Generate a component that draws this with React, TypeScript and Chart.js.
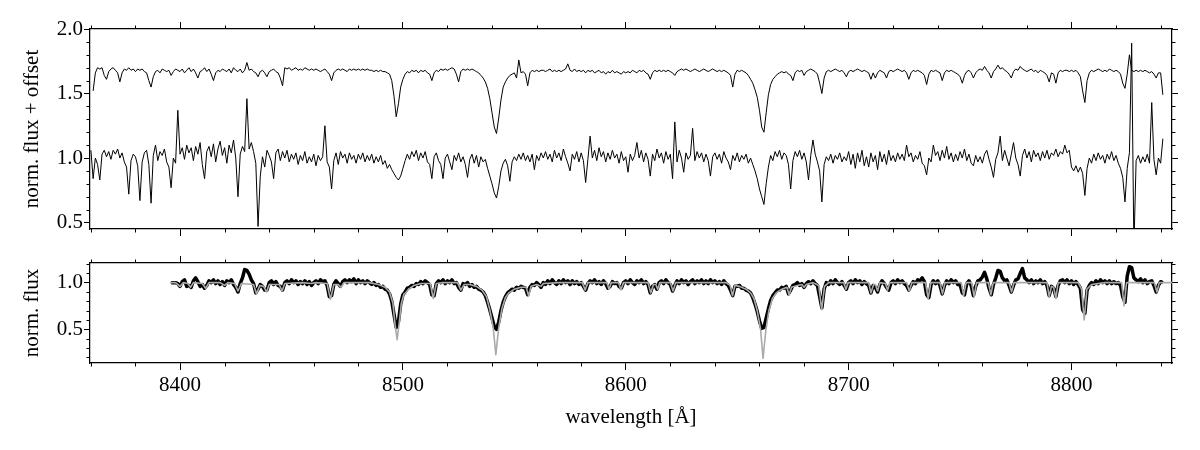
import React, { useEffect, useRef } from "react";
import { Chart, registerables } from "chart.js";

Chart.register(...registerables);

const FONT = "'Liberation Serif', 'Times New Roman', serif";
Chart.defaults.color = "#000";
Chart.defaults.font.family = FONT;

// ---------- axes ----------
const X_MIN = 8359.6;
const X_MAX = 8845.1;
const xMajorTicks = [8400, 8500, 8600, 8700, 8800];
const X_MINOR_STEP = 20;
const topYRange = [0.45, 2.0];
const topYMajorTicks = [0.5, 1.0, 1.5, 2.0];
const bottomYRange = [0.14, 1.21];
const bottomYMajorTicks = [0.5, 1.0];

// ---------- top panel: spectrum shifted by offset (1 Å sampling) ----------
const UPPER_START = 8361;
const UPPER_STEP = 1;
const upperFlux = [
  /*8361*/ 1.52,1.66,1.70,1.69,1.70,1.64,1.61,1.67,1.69,1.70,1.68,1.66,1.59,1.66,1.69,1.68,1.70,1.68,1.69,
  /*8380*/ 1.67,1.69,1.68,1.69,1.67,1.66,1.60,1.55,1.63,1.67,1.68,1.66,1.69,1.68,1.67,1.68,1.64,1.67,1.69,1.68,
  /*8400*/ 1.67,1.69,1.66,1.68,1.70,1.67,1.69,1.66,1.62,1.67,1.68,1.70,1.67,1.69,1.65,1.60,1.66,1.68,1.67,1.69,
  /*8420*/ 1.68,1.67,1.69,1.66,1.70,1.68,1.67,1.69,1.66,1.68,1.74,1.68,1.69,1.67,1.66,1.63,1.67,1.68,1.66,1.63,
  /*8440*/ 1.67,1.68,1.69,1.67,1.66,1.62,1.56,1.70,1.69,1.70,1.68,1.69,1.70,1.68,1.69,1.68,1.70,1.69,1.68,1.69,
  /*8460*/ 1.68,1.69,1.68,1.67,1.68,1.69,1.67,1.65,1.60,1.66,1.68,1.69,1.68,1.69,1.68,1.67,1.69,1.68,1.69,1.68,
  /*8480*/ 1.69,1.68,1.69,1.68,1.69,1.68,1.68,1.67,1.68,1.67,1.68,1.67,1.67,1.66,1.65,1.60,1.48,1.32,1.42,1.55,
  /*8500*/ 1.61,1.65,1.67,1.66,1.68,1.67,1.68,1.66,1.68,1.67,1.68,1.66,1.65,1.60,1.66,1.68,1.67,1.69,1.68,1.69,
  /*8520*/ 1.68,1.69,1.70,1.69,1.65,1.59,1.67,1.69,1.68,1.69,1.68,1.69,1.68,1.67,1.66,1.64,1.62,1.59,1.54,1.46,
  /*8540*/ 1.35,1.24,1.19,1.31,1.45,1.55,1.59,1.62,1.64,1.65,1.66,1.62,1.76,1.66,1.67,1.65,1.56,1.66,1.68,1.67,
  /*8560*/ 1.68,1.67,1.68,1.68,1.67,1.68,1.69,1.67,1.68,1.67,1.68,1.67,1.68,1.69,1.73,1.68,1.67,1.69,1.67,1.68,
  /*8580*/ 1.67,1.68,1.66,1.68,1.67,1.68,1.66,1.67,1.68,1.66,1.67,1.65,1.67,1.66,1.68,1.66,1.67,1.66,1.65,1.67,
  /*8600*/ 1.66,1.67,1.66,1.68,1.67,1.66,1.68,1.67,1.68,1.66,1.65,1.61,1.66,1.68,1.67,1.68,1.67,1.68,1.67,1.68,
  /*8620*/ 1.67,1.66,1.64,1.67,1.68,1.69,1.68,1.69,1.68,1.67,1.68,1.69,1.68,1.67,1.68,1.69,1.68,1.67,1.68,1.69,
  /*8640*/ 1.68,1.67,1.68,1.67,1.68,1.67,1.66,1.64,1.55,1.65,1.68,1.67,1.68,1.67,1.66,1.64,1.61,1.58,1.53,1.47,
  /*8660*/ 1.37,1.24,1.20,1.35,1.49,1.57,1.61,1.63,1.65,1.66,1.67,1.66,1.67,1.65,1.64,1.60,1.66,1.68,1.67,1.68,
  /*8680*/ 1.64,1.67,1.68,1.69,1.68,1.67,1.65,1.58,1.50,1.62,1.67,1.68,1.67,1.68,1.69,1.68,1.67,1.68,1.66,1.63,
  /*8700*/ 1.67,1.68,1.67,1.68,1.69,1.68,1.67,1.68,1.67,1.66,1.61,1.66,1.62,1.66,1.68,1.67,1.66,1.62,1.67,1.68,
  /*8720*/ 1.67,1.68,1.69,1.68,1.67,1.68,1.66,1.61,1.66,1.68,1.67,1.68,1.67,1.66,1.64,1.57,1.65,1.68,1.67,1.68,
  /*8740*/ 1.67,1.66,1.60,1.66,1.68,1.67,1.68,1.67,1.66,1.65,1.63,1.58,1.64,1.67,1.68,1.66,1.62,1.66,1.68,1.69,
  /*8760*/ 1.68,1.71,1.68,1.66,1.62,1.67,1.69,1.72,1.69,1.70,1.68,1.67,1.65,1.62,1.67,1.69,1.68,1.71,1.69,1.68,
  /*8780*/ 1.67,1.68,1.69,1.67,1.68,1.66,1.68,1.67,1.66,1.64,1.59,1.66,1.65,1.58,1.66,1.68,1.67,1.68,1.68,1.67,
  /*8800*/ 1.68,1.67,1.68,1.66,1.63,1.52,1.43,1.60,1.66,1.68,1.67,1.68,1.69,1.68,1.67,1.68,1.67,1.69,1.68,1.67,
  /*8820*/ 1.68,1.67,1.65,1.58,1.54,1.65,1.80,1.68,1.67,1.68,1.67,1.68,1.67,1.68,1.67,1.66,1.67,1.65,1.62,1.66,
  /*8840*/ 1.66,1.49,
];

// ---------- top panel: noisy spectrum (1 Å sampling) ----------
const LOWER_START = 8360;
const LOWER_STEP = 1;
const lowerFlux = [
  /*8360*/ 1.06,0.84,1.00,0.95,0.83,1.03,1.06,1.01,1.05,0.99,1.06,1.03,1.07,1.00,1.04,0.97,0.93,0.72,0.98,1.03,
  /*8380*/ 1.01,0.94,0.67,0.97,1.04,1.06,0.95,0.65,1.02,1.10,0.98,1.05,1.02,1.07,0.97,0.93,0.77,1.00,0.96,1.37,
  /*8400*/ 1.03,1.08,0.99,1.10,1.04,1.08,0.98,1.09,1.03,1.12,0.95,0.84,1.05,1.09,1.01,1.11,0.97,1.07,1.13,1.02,
  /*8420*/ 1.08,0.96,1.10,1.04,1.14,1.00,0.70,1.03,1.09,1.05,1.46,1.07,1.12,1.05,0.96,0.47,0.86,1.01,0.93,1.06,
  /*8440*/ 1.02,0.97,0.84,1.04,1.07,0.98,1.05,1.00,1.06,0.97,1.03,0.99,1.04,0.95,1.02,0.98,1.05,0.96,1.01,0.97,
  /*8460*/ 1.03,0.94,1.02,0.98,1.01,1.25,0.97,0.93,0.76,0.98,1.04,0.95,1.05,1.00,1.03,0.96,1.04,0.99,1.02,0.96,
  /*8480*/ 1.03,0.99,1.04,0.97,1.02,0.98,1.03,0.96,1.01,0.97,1.02,0.95,0.98,0.92,0.95,0.91,0.88,0.85,0.83,0.86,
  /*8500*/ 0.92,0.98,1.03,0.99,1.05,1.01,1.06,0.98,1.04,1.00,1.05,0.97,0.95,0.84,1.01,1.04,0.98,0.95,0.84,1.00,
  /*8520*/ 1.03,0.97,0.91,1.02,0.98,1.04,0.97,1.01,0.95,0.85,0.99,1.03,0.96,1.02,0.93,1.01,0.97,0.99,0.92,0.86,
  /*8540*/ 0.80,0.73,0.69,0.78,0.90,0.96,0.99,0.94,0.82,0.97,1.01,0.98,1.03,0.99,1.04,0.98,1.02,0.97,1.03,0.91,
  /*8560*/ 1.02,0.98,1.04,1.00,1.05,0.99,1.03,0.97,1.06,1.00,1.04,0.98,1.07,1.01,0.96,0.90,1.03,0.99,1.05,0.97,
  /*8580*/ 1.04,0.98,0.81,0.99,1.17,1.00,1.06,0.98,1.08,1.01,1.05,0.97,1.04,0.99,1.06,1.00,1.03,0.96,1.05,0.98,
  /*8600*/ 1.01,0.89,1.03,0.98,1.02,1.12,1.00,1.06,0.97,1.04,0.99,0.86,1.03,0.98,1.07,1.00,1.04,0.96,1.05,0.99,
  /*8620*/ 1.03,0.84,1.28,0.97,1.06,1.00,0.89,1.04,0.99,1.02,1.23,0.98,1.05,1.00,1.04,0.97,1.03,0.98,0.86,1.01,
  /*8640*/ 1.04,0.99,1.03,0.96,1.05,1.00,0.97,0.91,1.02,0.98,1.04,0.97,1.02,0.99,1.03,0.96,1.00,0.95,0.90,0.84,
  /*8660*/ 0.76,0.70,0.64,0.80,0.93,1.02,0.98,1.05,1.01,1.06,0.99,1.04,1.02,0.95,0.76,0.98,1.05,1.01,1.06,0.99,
  /*8680*/ 1.04,0.97,0.83,1.02,1.14,1.03,0.97,0.90,0.66,0.95,1.01,0.98,1.03,0.96,1.02,0.99,1.04,0.97,1.01,0.98,
  /*8700*/ 1.05,0.95,1.03,0.92,1.04,0.97,1.06,0.94,1.01,0.93,1.04,0.97,1.02,0.91,1.05,0.97,1.03,0.95,1.06,0.98,
  /*8720*/ 1.02,0.97,1.04,0.99,1.03,0.98,1.10,1.01,1.04,0.97,1.02,0.99,1.05,0.96,0.94,0.87,1.00,0.97,1.10,1.02,
  /*8740*/ 1.05,0.98,1.06,1.00,1.09,0.99,1.04,0.97,1.03,0.98,1.05,1.00,1.07,0.98,1.03,0.96,0.94,1.02,0.97,1.01,
  /*8760*/ 0.96,1.03,1.06,0.99,0.93,0.85,0.99,1.04,1.17,0.98,1.06,1.00,0.94,1.03,1.12,1.00,0.95,0.86,1.02,1.07,
  /*8780*/ 1.00,1.05,0.97,1.06,1.01,1.04,0.98,1.05,1.00,1.06,0.99,1.04,1.02,1.07,1.01,1.05,1.03,1.10,1.04,1.06,
  /*8800*/ 0.93,0.90,0.94,0.89,0.93,0.88,0.71,0.92,1.00,0.96,1.03,0.98,1.04,0.99,1.02,0.96,1.03,0.99,1.05,0.98,
  /*8820*/ 1.02,0.96,0.92,0.85,0.66,0.92,1.04,1.89,0.30,0.98,1.02,0.96,1.01,0.97,1.03,0.96,1.43,0.99,0.87,1.00,
  /*8840*/ 0.96,1.15,
];

// ---------- bottom panel: observed spectrum (1 Å sampling) ----------
const OBS_START = 8396;
const OBS_STEP = 1;
const observedFlux = [
  /*8396*/ 1.00,1.00,1.00,0.99,0.96,1.01,1.03,0.96,0.97,0.95,1.02,1.05,1.01,0.96,0.98,0.94,0.97,1.02,1.00,1.03,
  /*8416*/ 0.99,1.02,0.98,1.01,0.97,1.02,1.00,1.03,0.98,0.95,0.90,0.99,1.05,1.14,1.13,1.09,1.03,0.99,0.89,0.93,
  /*8436*/ 0.98,0.96,0.92,0.92,1.00,1.02,0.98,1.01,0.97,0.96,0.92,1.00,1.02,0.99,1.03,1.00,1.02,0.98,1.01,0.99,
  /*8456*/ 1.02,0.98,1.01,0.97,1.00,1.02,0.99,1.03,1.01,1.02,0.97,0.85,0.86,0.98,1.02,0.99,0.96,1.01,1.03,1.00,
  /*8476*/ 1.03,1.01,1.04,0.99,1.03,1.00,1.02,0.99,1.02,1.00,0.98,1.00,0.97,0.98,0.95,0.96,0.93,0.92,0.88,0.80,
  /*8496*/ 0.66,0.52,0.58,0.77,0.87,0.90,0.94,0.95,0.97,0.96,0.99,0.98,1.01,0.99,1.02,1.00,0.98,0.87,0.86,0.99,
  /*8516*/ 1.02,1.00,1.03,0.99,1.02,1.00,1.03,0.99,1.00,0.95,0.92,0.99,0.98,1.00,0.96,0.98,0.95,0.96,0.93,0.92,
  /*8536*/ 0.90,0.86,0.79,0.71,0.62,0.53,0.50,0.58,0.70,0.79,0.85,0.89,0.91,0.93,0.92,0.95,0.94,0.96,0.95,0.94,
  /*8556*/ 0.87,0.95,0.98,0.97,1.00,0.98,0.95,1.00,0.98,1.02,0.99,1.03,1.00,0.98,1.02,0.99,1.03,1.00,1.02,0.98,
  /*8576*/ 1.02,0.99,1.01,0.98,1.00,0.96,0.92,0.99,1.02,1.00,1.03,0.99,1.01,0.98,1.02,0.99,0.94,0.96,1.01,0.99,
  /*8596*/ 1.00,0.96,0.94,1.00,1.02,0.99,1.03,1.00,0.98,1.02,1.00,1.03,0.99,1.01,0.98,0.89,0.96,0.98,0.93,1.00,
  /*8616*/ 1.02,0.99,1.03,1.00,0.98,0.91,0.97,1.02,0.99,1.03,1.00,1.02,0.98,1.01,1.03,0.99,1.02,1.00,1.03,0.99,
  /*8636*/ 1.02,0.99,1.03,1.00,1.02,0.99,1.01,0.98,1.02,0.99,0.97,0.92,0.86,0.96,0.96,0.97,0.94,0.94,0.92,0.91,
  /*8656*/ 0.89,0.84,0.77,0.69,0.59,0.51,0.52,0.62,0.72,0.81,0.86,0.89,0.92,0.92,0.95,0.94,0.96,0.88,0.92,0.97,
  /*8676*/ 0.98,1.00,0.97,0.99,0.95,0.99,1.01,0.99,1.02,0.99,0.97,0.85,0.73,0.93,1.00,0.98,1.02,0.99,1.03,1.00,
  /*8696*/ 0.98,1.01,0.97,0.93,1.00,1.02,0.99,1.03,1.00,1.02,0.98,1.01,0.99,0.97,0.89,0.97,0.95,0.90,0.98,1.02,
  /*8716*/ 0.99,0.95,0.92,1.00,1.02,0.99,1.03,1.00,1.02,0.99,0.97,0.92,0.97,1.01,0.99,1.03,1.02,1.05,1.01,0.87,
  /*8736*/ 0.84,0.98,1.02,0.99,1.02,0.97,0.88,0.97,1.02,0.99,1.03,1.00,1.02,0.98,0.98,0.89,0.87,0.99,1.02,0.97,
  /*8756*/ 0.86,0.96,1.02,1.03,1.06,1.11,1.04,0.94,0.87,0.98,1.05,1.13,1.12,1.05,1.02,1.03,0.97,0.90,0.97,1.03,
  /*8776*/ 1.04,1.10,1.15,1.05,1.03,1.00,1.03,0.99,1.02,1.00,1.03,0.99,1.01,0.97,0.86,0.96,0.94,0.85,0.97,1.02,
  /*8796*/ 1.03,1.00,1.03,0.99,1.02,0.98,1.01,0.98,0.94,0.71,0.67,0.92,0.97,1.00,0.98,1.02,0.99,1.03,1.00,1.02,
  /*8816*/ 0.99,1.02,0.99,1.01,0.99,1.00,0.97,0.85,0.79,1.07,1.17,1.16,1.05,1.03,1.01,1.04,1.00,1.03,0.99,1.01,
  /*8836*/ 1.02,0.97,0.90,0.97,1.01,1.00,
];

// ---------- bottom panel: model spectrum ----------
const modelWave = [
  8395.5, 8398, 8400, 8401.5, 8403.5, 8404.7, 8406, 8410, 8411.5, 8413,
  8418, 8420, 8421.5, 8424.5, 8426, 8427.5, 8433, 8434.3, 8435.8, 8437.5,
  8438.8, 8440, 8444.5, 8445.8, 8447, 8455, 8459, 8461, 8466, 8467.5,
  8469, 8471, 8472.2, 8473.5, 8485, 8489, 8492, 8494, 8495.5, 8496.5,
  8497.4, 8498.3, 8499.3, 8500.5, 8501.2, 8502.5, 8505, 8508, 8512.3, 8513.6,
  8515, 8518, 8524.5, 8526, 8527.5, 8530, 8533, 8535.5, 8537.5, 8539,
  8540.5, 8541.7, 8542.9, 8544.4, 8546, 8547.5, 8550, 8553, 8555.3, 8556.4,
  8557.5, 8560, 8562, 8563, 8570, 8580.5, 8581.8, 8583, 8591.5, 8592.5,
  8593.5, 8596.8, 8597.8, 8599, 8610, 8611.2, 8612.4, 8613.5, 8614.3, 8615.3,
  8620, 8621.2, 8622.4, 8635, 8645, 8646.8, 8647.9, 8649, 8651, 8654,
  8656, 8657.5, 8659, 8660.5, 8661.6, 8662.8, 8664.2, 8665.8, 8667.5, 8670,
  8672.3, 8673.3, 8674.4, 8677, 8679, 8680, 8681, 8684, 8686.6, 8687.9,
  8689.2, 8691, 8697.8, 8698.8, 8699.8, 8709, 8710, 8711.2, 8712, 8713,
  8714, 8716.5, 8717.5, 8718.5, 8726, 8727.2, 8728.4, 8734.5, 8735.7, 8736.9,
  8741, 8742.1, 8743.2, 8750.5, 8751.6, 8752.7, 8755.2, 8756.3, 8757.4, 8762.7,
  8763.8, 8764.9, 8772, 8773.1, 8774.2, 8789, 8790, 8791, 8792, 8793,
  8794, 8803, 8804.5, 8805.7, 8806.9, 8809, 8815, 8822.5, 8823.6, 8824.7,
  8837.2, 8838.3, 8839.4, 8842, 8850,
];
const modelFlux = [
  1.00, 1.00, 0.96, 1.00, 0.99, 0.95, 1.00, 0.99, 0.94, 1.00,
  1.00, 0.97, 1.00, 0.99, 0.91, 0.99, 0.98, 0.88, 0.97, 0.96,
  0.90, 0.98, 0.98, 0.91, 0.99, 1.00, 0.99, 1.00, 0.99, 0.82,
  0.98, 0.98, 0.95, 1.00, 1.00, 0.98, 0.95, 0.90, 0.78, 0.55,
  0.39, 0.56, 0.78, 0.88, 0.89, 0.93, 0.97, 0.99, 0.99, 0.83,
  0.99, 1.00, 1.00, 0.92, 0.98, 0.98, 0.96, 0.92, 0.85, 0.71,
  0.52, 0.23, 0.50, 0.72, 0.84, 0.89, 0.93, 0.95, 0.95, 0.86,
  0.96, 0.98, 0.96, 0.99, 1.00, 1.00, 0.92, 1.00, 1.00, 0.93,
  1.00, 1.00, 0.92, 1.00, 1.00, 0.89, 0.98, 0.98, 0.93, 1.00,
  1.00, 0.91, 1.00, 1.00, 1.00, 0.97, 0.86, 0.97, 0.96, 0.93,
  0.89, 0.83, 0.70, 0.50, 0.19, 0.48, 0.70, 0.83, 0.89, 0.93,
  0.95, 0.87, 0.95, 0.97, 0.98, 0.95, 0.98, 1.00, 0.97, 0.71,
  0.96, 1.00, 1.00, 0.93, 1.00, 1.00, 0.89, 0.98, 0.98, 0.91,
  1.00, 0.99, 0.92, 1.00, 1.00, 0.91, 1.00, 1.00, 0.83, 1.00,
  1.00, 0.88, 1.00, 1.00, 0.86, 1.00, 1.00, 0.85, 1.00, 1.00,
  0.87, 1.00, 1.00, 0.90, 1.00, 1.00, 0.85, 0.96, 0.95, 0.83,
  1.00, 1.00, 0.93, 0.60, 0.93, 0.98, 1.00, 1.00, 0.75, 1.00,
  1.00, 0.90, 1.00, 1.00, 1.00,
];

// ---------- helpers ----------
function gridPoints(start: number, step: number, values: number[]) {
  return values.map((y, i) => ({ x: start + i * step, y }));
}
function pairedPoints(xs: number[], ys: number[]) {
  return xs.map((x, i) => ({ x, y: ys[i] }));
}

const minorTicksPlugin = {
  id: "minorTicks",
  afterDraw(chart: any, _args: any, opts: any) {
    const { ctx, chartArea } = chart;
    const xs = chart.scales.x;
    const ys = chart.scales.y;
    const L = 3.5;
    ctx.save();
    ctx.strokeStyle = "#000";
    ctx.lineWidth = 1;
    ctx.beginPath();
    const startX = Math.ceil(X_MIN / X_MINOR_STEP) * X_MINOR_STEP;
    for (let v = startX; v <= X_MAX; v += X_MINOR_STEP) {
      if (xMajorTicks.includes(v)) continue;
      const px = Math.round(xs.getPixelForValue(v)) + 0.5;
      ctx.moveTo(px, chartArea.top);
      ctx.lineTo(px, chartArea.top - L);
      ctx.moveTo(px, chartArea.bottom);
      ctx.lineTo(px, chartArea.bottom + L);
    }
    const kMin = Math.ceil(opts.yMin * 10 - 1e-6);
    const kMax = Math.floor(opts.yMax * 10 + 1e-6);
    for (let k = kMin; k <= kMax; k++) {
      const v = k / 10;
      if (opts.majors.some((m: number) => Math.abs(m - v) < 1e-6)) continue;
      const py = Math.round(ys.getPixelForValue(v)) + 0.5;
      ctx.moveTo(chartArea.left, py);
      ctx.lineTo(chartArea.left - L, py);
      ctx.moveTo(chartArea.right, py);
      ctx.lineTo(chartArea.right + L, py);
    }
    ctx.stroke();
    ctx.restore();
  },
};

const tickFont = { family: FONT, size: 21 };
const titleFont = { family: FONT, size: 21 };

function xScale(position: string, showLabels: boolean, height: number, title?: string) {
  return {
    type: "linear",
    position,
    min: X_MIN,
    max: X_MAX,
    afterBuildTicks: (s: any) => {
      s.ticks = xMajorTicks.map((value) => ({ value }));
    },
    afterFit: (s: any) => {
      s.height = height;
    },
    grid: { drawOnChartArea: false, drawTicks: true, tickLength: 7, tickWidth: 1, tickColor: "#000" },
    border: { display: true, color: "#000", width: 1.25 },
    ticks: {
      display: showLabels,
      autoSkip: false,
      maxRotation: 0,
      padding: 3,
      color: "#000",
      font: tickFont,
      callback: (v: any) => String(v),
    },
    title: title
      ? { display: true, text: title, color: "#000", font: titleFont, padding: { top: 0, bottom: 20 } }
      : { display: false },
  };
}

function yScale(position: string, range: number[], majors: number[], showLabels: boolean, width: number, title?: string) {
  return {
    type: "linear",
    position,
    min: range[0],
    max: range[1],
    afterBuildTicks: (s: any) => {
      s.ticks = majors.map((value) => ({ value }));
    },
    afterFit: (s: any) => {
      s.width = width;
    },
    grid: { drawOnChartArea: false, drawTicks: true, tickLength: 6, tickWidth: 1, tickColor: "#000" },
    border: { display: true, color: "#000", width: 1.25 },
    ticks: {
      display: showLabels,
      autoSkip: false,
      padding: 1,
      color: "#000",
      font: tickFont,
      callback: (v: any) => Number(v).toFixed(1),
    },
    title: title
      ? { display: true, text: title, color: "#000", font: titleFont, padding: { top: 20, bottom: 0 } }
      : { display: false },
  };
}

function baseOptions(yRange: number[], yMajors: number[]) {
  return {
    responsive: false,
    animation: false,
    devicePixelRatio: 1,
    layout: { padding: 0 },
    elements: { point: { radius: 0 }, line: { tension: 0 } },
    plugins: {
      legend: { display: false },
      tooltip: { enabled: false },
      minorTicks: { yMin: yRange[0], yMax: yRange[1], majors: yMajors },
    },
  };
}

function topConfig(): any {
  return {
    type: "line",
    data: {
      datasets: [
        {
          label: "offset spectrum",
          data: gridPoints(UPPER_START, UPPER_STEP, upperFlux),
          borderColor: "#000",
          borderWidth: 1,
          borderJoinStyle: "round",
          pointRadius: 0,
          fill: false,
        },
        {
          label: "noisy spectrum",
          data: gridPoints(LOWER_START, LOWER_STEP, lowerFlux),
          borderColor: "#000",
          borderWidth: 1,
          borderJoinStyle: "round",
          pointRadius: 0,
          fill: false,
        },
      ],
    },
    options: {
      ...baseOptions(topYRange, topYMajorTicks),
      scales: {
        x: xScale("bottom", false, 16),
        x2: xScale("top", false, 29),
        y: yScale("left", topYRange, topYMajorTicks, true, 90, "norm. flux + offset"),
        y2: yScale("right", topYRange, topYMajorTicks, false, 28),
      },
    },
    plugins: [minorTicksPlugin],
  };
}

function bottomConfig(): any {
  return {
    type: "line",
    data: {
      datasets: [
        {
          label: "model",
          data: pairedPoints(modelWave, modelFlux),
          borderColor: "#aaaaaa",
          borderWidth: 1.6,
          borderJoinStyle: "round",
          pointRadius: 0,
          fill: false,
        },
        {
          label: "observed",
          data: gridPoints(OBS_START, OBS_STEP, observedFlux),
          borderColor: "#000",
          borderWidth: 3.5,
          borderJoinStyle: "round",
          pointRadius: 0,
          fill: false,
        },
      ],
    },
    options: {
      ...baseOptions(bottomYRange, bottomYMajorTicks),
      scales: {
        x: xScale("bottom", true, 87, "wavelength [Å]"),
        x2: xScale("top", false, 18),
        y: yScale("left", bottomYRange, bottomYMajorTicks, true, 90, "norm. flux"),
        y2: yScale("right", bottomYRange, bottomYMajorTicks, false, 28),
      },
    },
    plugins: [minorTicksPlugin],
  };
}

function Panel({ top, height, makeConfig }: { top: number; height: number; makeConfig: () => any }) {
  const ref = useRef<HTMLCanvasElement | null>(null);
  useEffect(() => {
    if (!ref.current) return;
    const chart = new Chart(ref.current, makeConfig());
    return () => chart.destroy();
  }, []);
  return (
    <canvas
      ref={ref}
      width={1200}
      height={height}
      style={{ position: "absolute", left: 0, top, width: 1200, height, display: "block" }}
    />
  );
}

export default function App() {
  return (
    <div style={{ position: "absolute", left: 0, top: 0, width: 1200, height: 450, background: "#fff" }}>
      <Panel top={0} height={245} makeConfig={topConfig} />
      <Panel top={245} height={205} makeConfig={bottomConfig} />
    </div>
  );
}
